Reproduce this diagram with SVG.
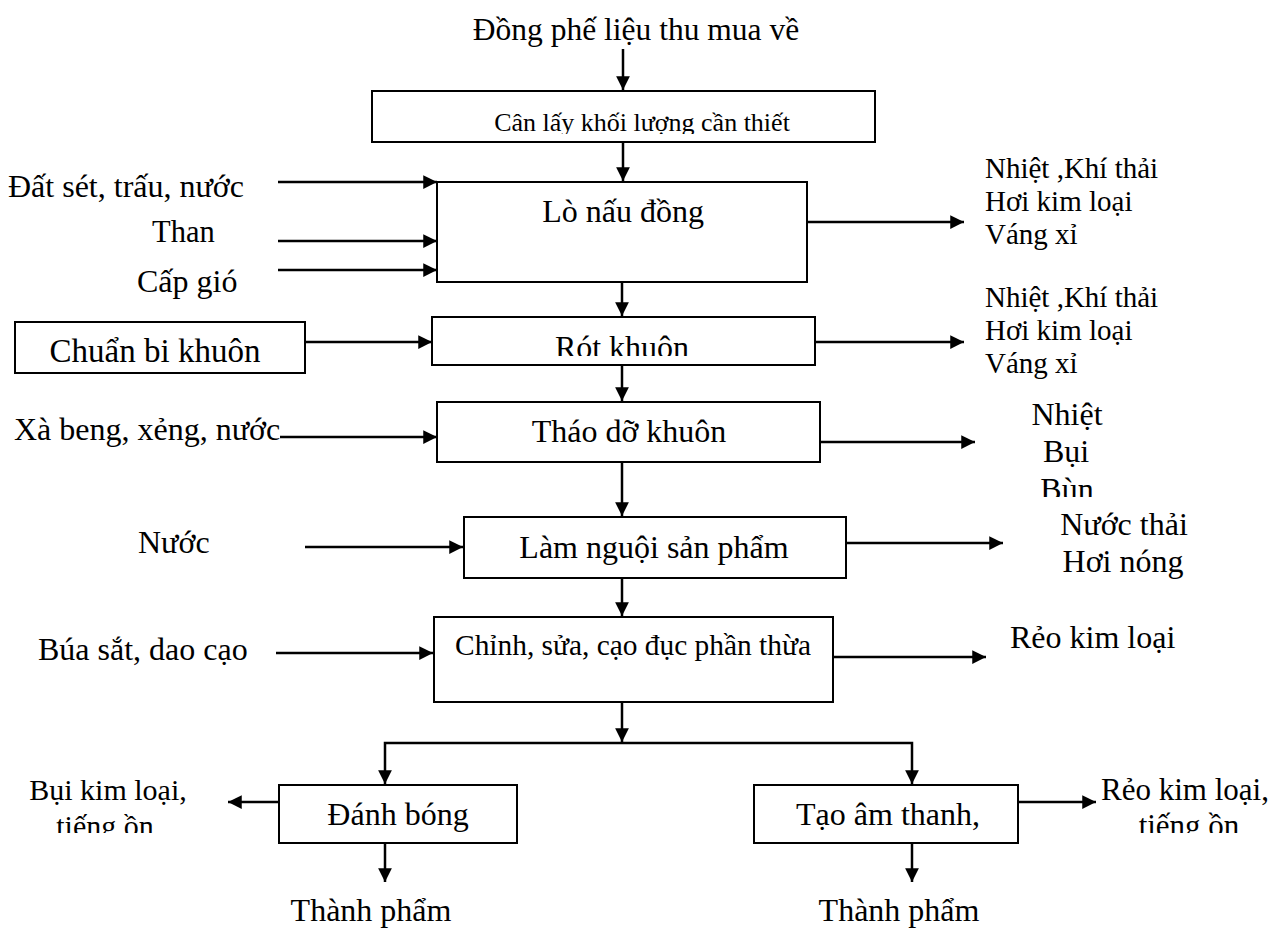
<svg xmlns="http://www.w3.org/2000/svg" width="1269" height="931" viewBox="0 0 1269 931">
<style>
  text { font-family: "Liberation Serif", "Times New Roman", serif; font-size: 32px; fill: #000; }
  .c { text-anchor: middle; }
  .m { font-size: 29px; }
  .s { font-size: 26px; }
  .box { fill: #fff; stroke: #000; stroke-width: 2; }
  .ln { fill: none; stroke: #000; stroke-width: 2.5; }
</style>
<defs>
  <marker id="ah" viewBox="0 0 10 10" refX="10" refY="5" markerWidth="5.5" markerHeight="5.5" markerUnits="strokeWidth" orient="auto">
    <path d="M0,0 L10,5 L0,10 z" fill="#000"/>
  </marker>
  <clipPath id="cp1"><rect x="0" y="0" width="1269" height="134"/></clipPath>
  <clipPath id="cp2"><rect x="0" y="0" width="1269" height="356"/></clipPath>
  <clipPath id="cp3"><rect x="0" y="0" width="1269" height="497"/></clipPath>
  <clipPath id="cp4"><rect x="0" y="0" width="1269" height="833"/></clipPath>
</defs>

<g id="connectors">
  <line class="ln" x1="623" y1="49" x2="623" y2="90" marker-end="url(#ah)"/>
  <line class="ln" x1="623" y1="142" x2="623" y2="181" marker-end="url(#ah)"/>
  <line class="ln" x1="278" y1="182" x2="437" y2="182" marker-end="url(#ah)"/>
  <line class="ln" x1="278" y1="241" x2="437" y2="241" marker-end="url(#ah)"/>
  <line class="ln" x1="278" y1="270" x2="437" y2="270" marker-end="url(#ah)"/>
  <line class="ln" x1="807" y1="222" x2="964" y2="222" marker-end="url(#ah)"/>
  <line class="ln" x1="622" y1="276" x2="622" y2="316" marker-end="url(#ah)"/>
  <line class="ln" x1="302" y1="342" x2="432" y2="342" marker-end="url(#ah)"/>
  <line class="ln" x1="807" y1="342" x2="964" y2="342" marker-end="url(#ah)"/>
  <line class="ln" x1="622" y1="362" x2="622" y2="401" marker-end="url(#ah)"/>
  <line class="ln" x1="280" y1="437" x2="437" y2="437" marker-end="url(#ah)"/>
  <line class="ln" x1="817" y1="442" x2="975" y2="442" marker-end="url(#ah)"/>
  <line class="ln" x1="622" y1="457" x2="622" y2="516" marker-end="url(#ah)"/>
  <line class="ln" x1="305" y1="547" x2="463" y2="547" marker-end="url(#ah)"/>
  <line class="ln" x1="845" y1="543" x2="1003" y2="543" marker-end="url(#ah)"/>
  <line class="ln" x1="622" y1="578" x2="622" y2="616" marker-end="url(#ah)"/>
  <line class="ln" x1="276" y1="653" x2="433" y2="653" marker-end="url(#ah)"/>
  <line class="ln" x1="833" y1="657" x2="986" y2="657" marker-end="url(#ah)"/>
  <line class="ln" x1="622" y1="702" x2="622" y2="742" marker-end="url(#ah)"/>
  <polyline class="ln" points="622,743 385,743 385,784" marker-end="url(#ah)"/>
  <polyline class="ln" points="622,743 912,743 912,784" marker-end="url(#ah)"/>
  <line class="ln" x1="279" y1="802" x2="228" y2="802" marker-end="url(#ah)"/>
  <line class="ln" x1="385" y1="843" x2="385" y2="882" marker-end="url(#ah)"/>
  <line class="ln" x1="1018" y1="802" x2="1096" y2="802" marker-end="url(#ah)"/>
  <line class="ln" x1="912" y1="843" x2="912" y2="882" marker-end="url(#ah)"/>
</g>

<g id="n-source"><text class="c" x="636" y="40" style="font-size:31.5px">Đồng phế liệu thu mua về</text></g>

<g id="n-can">
  <rect class="box" x="372" y="91" width="503" height="51"/>
  <text class="c s" x="642" y="131" clip-path="url(#cp1)">Cân lấy khối lượng cần thiết</text>
</g>

<g id="n-lo">
  <rect class="box" x="437" y="182" width="370" height="100"/>
  <text class="c" x="623" y="222">Lò nấu đồng</text>
</g>

<g id="in-lo">
  <text x="8" y="197">Đất sét, trấu, nước</text>
  <text x="152" y="242" style="font-size:30.5px">Than</text>
  <text x="137" y="292">Cấp gió</text>
</g>

<g id="out-lo">
  <text x="985" y="178" class="m">Nhiệt ,Khí thải</text>
  <text x="985" y="211" class="m">Hơi kim loại</text>
  <text x="985" y="244" class="m">Váng xỉ</text>
</g>

<g id="n-chuanbi">
  <rect class="box" x="15" y="322" width="290" height="51"/>
  <text class="c" x="155" y="362" style="font-size:33px">Chuẩn bi khuôn</text>
</g>

<g id="n-rot">
  <rect class="box" x="432" y="317" width="383" height="48"/>
  <text class="c" x="622" y="358" clip-path="url(#cp2)">Rót khuôn</text>
</g>

<g id="out-rot">
  <text x="985" y="307" class="m">Nhiệt ,Khí thải</text>
  <text x="985" y="340" class="m">Hơi kim loại</text>
  <text x="985" y="373" class="m">Váng xỉ</text>
</g>

<g id="n-thao">
  <rect class="box" x="437" y="402" width="383" height="60"/>
  <text class="c" x="629" y="442">Tháo dỡ khuôn</text>
</g>

<g id="in-thao"><text x="14" y="440">Xà beng, xẻng, nước</text></g>

<g id="out-thao">
  <text class="c" x="1067" y="425">Nhiệt</text>
  <text class="c" x="1066" y="462">Bụi</text>
  <text class="c" x="1067" y="500" clip-path="url(#cp3)">Bùn</text>
</g>

<g id="n-lamnguoi">
  <rect class="box" x="464" y="517" width="382" height="61"/>
  <text class="c" x="654" y="558">Làm nguội sản phẩm</text>
</g>

<g id="in-lamnguoi"><text x="138" y="553">Nước</text></g>

<g id="out-lamnguoi">
  <text class="c" x="1124" y="535">Nước thải</text>
  <text class="c" x="1123" y="572">Hơi nóng</text>
</g>

<g id="n-chinh">
  <rect class="box" x="434" y="617" width="399" height="85"/>
  <text class="c" x="633" y="655" style="font-size:29.4px">Chỉnh, sửa, cạo đục phần thừa</text>
</g>

<g id="in-chinh"><text x="38" y="660">Búa sắt, dao cạo</text></g>

<g id="out-chinh"><text x="1010" y="648">Rẻo kim loại</text></g>

<g id="n-danhbong">
  <rect class="box" x="279" y="785" width="238" height="58"/>
  <text class="c" x="398" y="825">Đánh bóng</text>
</g>

<g id="out-danhbong">
  <text class="c" x="108" y="800" style="font-size:30px">Bụi kim loại,</text>
  <text class="c" x="105" y="836" style="font-size:30px" clip-path="url(#cp4)">tiếng ồn</text>
</g>

<g id="n-tao">
  <rect class="box" x="754" y="785" width="264" height="58"/>
  <text class="c" x="888" y="825">Tạo âm thanh,</text>
</g>

<g id="out-tao">
  <text class="c" x="1185" y="800" style="font-size:31px">Rẻo kim loại,</text>
  <text class="c" x="1189" y="836" style="font-size:31px" clip-path="url(#cp4)">tiếng ồn</text>
</g>

<g id="n-tp1"><text class="c" x="371" y="921">Thành phẩm</text></g>
<g id="n-tp2"><text class="c" x="899" y="921">Thành phẩm</text></g>
</svg>
